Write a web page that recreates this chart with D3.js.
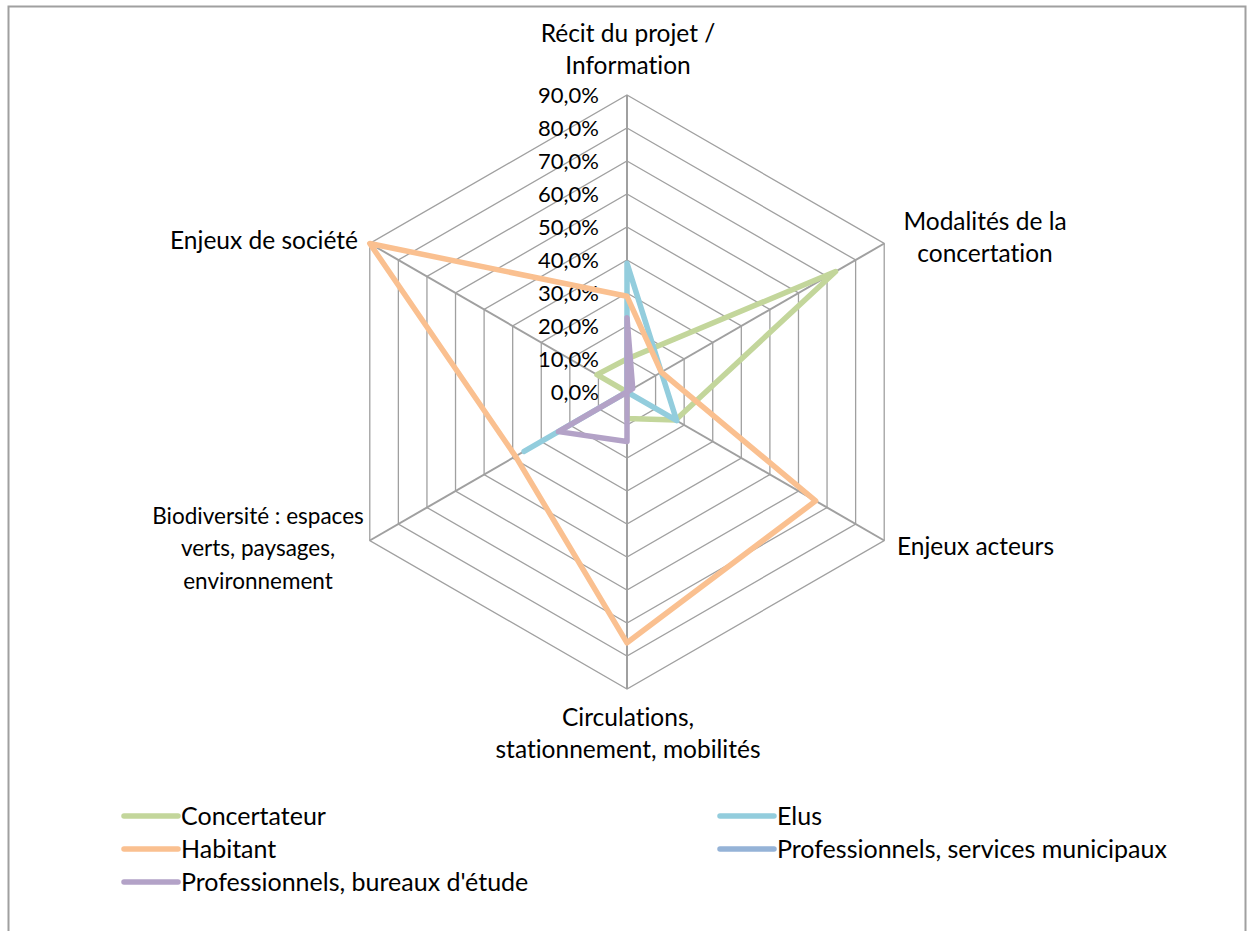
<!DOCTYPE html>
<html>
<head>
<meta charset="utf-8">
<script src="https://cdn.jsdelivr.net/npm/d3@7"></script>
<style>
  html, body { margin: 0; padding: 0; background: #fff; }
  svg { display: block; }
  text { font-family: Lato, "Open Sans", sans-serif; fill: #000; font-variant-ligatures: none; }
</style>
</head>
<body>
<svg id="chart" width="1247" height="931"></svg>
<script>
// Axes of the radar, clockwise from the top (each label split into its lines)
const categories = [
  ["Récit du projet /", "Information"],
  ["Modalités de la", "concertation"],
  ["Enjeux acteurs"],
  ["Circulations,", "stationnement, mobilités"],
  ["Biodiversité : espaces", "verts, paysages,", "environnement"],
  ["Enjeux de société"]
];

// Share of mentions per axis, in percent
const concertateur = [10, 73, 17, 8, 0, 10.5];
const elus = [39, 12, 17.4, 0, 36, 0];
const habitant = [29, 12, 66, 76, 39, 90];
const servicesMunicipaux = [0, 0, 0, 0, 0, 0];
const bureauxEtude = [22.5, 2, 0, 15, 24, 0];

const seriesNames = ["Concertateur", "Elus", "Habitant",
  "Professionnels, services municipaux", "Professionnels, bureaux d'étude"];
const seriesColors = ["#C3D69B", "#93CDDD", "#FAC090", "#95B3D7", "#B3A2C7"];

const tickValues = [0, 10, 20, 30, 40, 50, 60, 70, 80, 90];
const tickLabels = ["0,0%", "10,0%", "20,0%", "30,0%", "40,0%", "50,0%",
  "60,0%", "70,0%", "80,0%", "90,0%"];

const series = [concertateur, elus, habitant, servicesMunicipaux, bureauxEtude]
  .map((values, i) => ({ name: seriesNames[i], color: seriesColors[i], values }));

const svg = d3.select("#chart");
const cx = 627, cy = 392;
const r = d3.scaleLinear().domain([0, 90]).range([0, 297]);
const n = categories.length;
const angle = d3.scaleLinear().domain([0, n]).range([-Math.PI / 2, 1.5 * Math.PI]);
const pt = (i, v) => [cx + r(v) * Math.cos(angle(i)), cy + r(v) * Math.sin(angle(i))];

// Outer frame of the chart area
svg.append("path")
  .attr("d", "M8.5,940 V6.5 H1245.5 V940")
  .attr("fill", "none").attr("stroke", "#A0A0A0").attr("stroke-width", 2);

const grid = svg.append("g");
// Hexagonal rings
grid.selectAll("path.ring").data(tickValues.slice(1)).join("path")
  .attr("class", "ring")
  .attr("d", v => d3.line()(d3.range(n).map(i => pt(i, v))) + "Z")
  .attr("fill", "none").attr("stroke", "#A0A0A0").attr("stroke-width", 1.3);
// Spokes
grid.selectAll("line.spoke").data(d3.range(n)).join("line")
  .attr("class", "spoke")
  .attr("x1", cx).attr("y1", cy)
  .attr("x2", i => pt(i, 90)[0]).attr("y2", i => pt(i, 90)[1])
  .attr("stroke", "#A0A0A0").attr("stroke-width", 2);

// Value labels along the top spoke
svg.append("g").selectAll("text").data(tickValues).join("text")
  .attr("x", cx - 28).attr("y", v => cy - r(v))
  .attr("dy", "0.35em").attr("text-anchor", "end")
  .attr("font-size", 22)
  .text((v, i) => tickLabels[i]);

// Series polygons
const radarLine = d3.line().curve(d3.curveLinearClosed);
svg.append("g").selectAll("path").data(series).join("path")
  .attr("d", s => radarLine(s.values.map((v, i) => pt(i, v))))
  .attr("fill", "none").attr("stroke", s => s.color)
  .attr("stroke-width", 5.5)
  .attr("stroke-linejoin", "round").attr("stroke-linecap", "round");

// Axis labels
const labelPos = [
  { x: 628, y: 33, anchor: "middle", size: 24.5 },
  { x: 985, y: 221, anchor: "middle", size: 24.5 },
  { x: 897, y: 546, anchor: "start", size: 24.5 },
  { x: 628, y: 717, anchor: "middle", size: 24.5 },
  { x: 258, y: 516, anchor: "middle", size: 22.5 },
  { x: 358, y: 240, anchor: "end", size: 24.5 }
];
const lab = svg.append("g").selectAll("text").data(categories).join("text")
  .attr("font-size", (d, i) => labelPos[i].size)
  .attr("text-anchor", (d, i) => labelPos[i].anchor)
  .attr("transform", (d, i) => `translate(${labelPos[i].x},${labelPos[i].y})`);
lab.selectAll("tspan").data(d => d).join("tspan")
  .attr("x", 0).attr("y", (d, j) => j * 32.5).attr("dy", "0.35em")
  .text(d => d);

// Legend
const legendX = [122, 718];
const legendY = [816, 849, 882];
const leg = svg.append("g").selectAll("g").data(series).join("g")
  .attr("transform", (s, i) => `translate(${legendX[i % 2]},${legendY[Math.floor(i / 2)]})`);
leg.append("line")
  .attr("x1", 2).attr("x2", 56).attr("y1", 0).attr("y2", 0)
  .attr("stroke", s => s.color).attr("stroke-width", 5.5)
  .attr("stroke-linecap", "round");
leg.append("text")
  .attr("x", 59).attr("dy", "0.35em").attr("font-size", 25)
  .text(s => s.name);
</script>
</body>
</html>
